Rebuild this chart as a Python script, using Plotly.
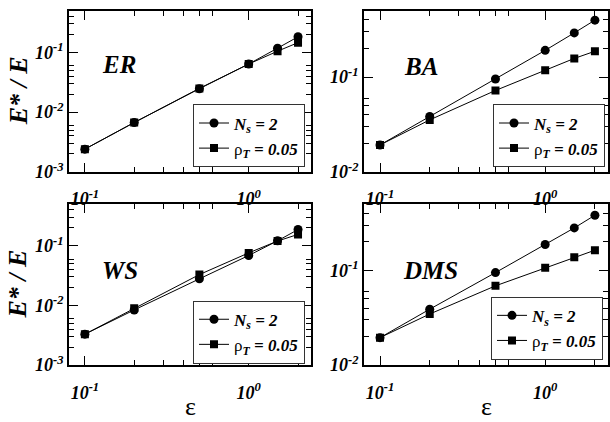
import numpy as np
import plotly.graph_objects as go

# ---------------- data ----------------
eps = [0.1, 0.2, 0.5, 1.0, 1.5, 2.0]

ER_Ns = [0.0024, 0.0067, 0.0247, 0.064, 0.118, 0.183]
ER_rho = [0.0024, 0.0067, 0.025, 0.064, 0.105, 0.146]
BA_Ns = [0.0192, 0.0383, 0.0953, 0.191, 0.292, 0.398]
BA_rho = [0.0192, 0.0353, 0.0721, 0.118, 0.157, 0.187]
WS_Ns = [0.0033, 0.0084, 0.0279, 0.0687, 0.121, 0.187]
WS_rho = [0.0033, 0.0090, 0.0329, 0.076, 0.120, 0.155]
DMS_Ns = [0.0195, 0.0389, 0.0946, 0.187, 0.280, 0.381]
DMS_rho = [0.0195, 0.0346, 0.0686, 0.1066, 0.137, 0.163]

panel_names = ["ER", "BA", "WS", "DMS"]
series_Ns = [ER_Ns, BA_Ns, WS_Ns, DMS_Ns]
series_rho = [ER_rho, BA_rho, WS_rho, DMS_rho]
y_low = [1e-3, 1e-2, 1e-3, 1e-2]
y_high = 0.5
x_range = [0.08, 2.4]

label_Ns = "<b><i>N<sub>s</sub> = 2</i></b>"
label_rho = "ρ<b><i><sub>T</sub> = 0.05</i></b>"

x_major = [0.1, 1.0]
x_major_text = ["<b><i>10<sup>-1</sup></i></b>", "<b><i>10<sup>0</sup></i></b>"]

# ---------------- layout geometry ----------------
W, H = 610, 422


def PX(x):
    return x / W


def PY(y):
    return 1 - y / H


xdom = [[PX(69), PX(311)], [PX(364), PX(608)]]
ydom = [[PY(176), PY(11)], [PY(374), PY(209)]]

FONT = "Liberation Serif"

fig = go.Figure()

for i in range(4):
    row, col = divmod(i, 2)
    ax = "" if i == 0 else str(i + 1)
    leg = "legend" if i == 0 else f"legend{i + 1}"
    # squares first so circles sit on top
    fig.add_trace(go.Scatter(
        x=eps, y=series_rho[i], mode="lines+markers",
        line=dict(color="black", width=1),
        marker=dict(symbol="square", size=8, color="black"),
        name=label_rho, xaxis="x" + ax, yaxis="y" + ax,
        legend=leg, legendrank=2))
    fig.add_trace(go.Scatter(
        x=eps, y=series_Ns[i], mode="lines+markers",
        line=dict(color="black", width=1),
        marker=dict(symbol="circle", size=9, color="black"),
        name=label_Ns, xaxis="x" + ax, yaxis="y" + ax,
        legend=leg, legendrank=1))

    lo = y_low[i]
    y_major = []
    d = lo
    while d < y_high * 1.0001:
        y_major.append(d)
        d *= 10
    y_major_text = ["<b><i>10<sup>%d</sup></i></b>" % int(round(np.log10(v))) for v in y_major]
    y_minor = [m * v for v in y_major for m in (2, 3, 4, 5, 6) if m * v < y_high * 0.999]
    x_minor = [m * v for v in x_major for m in (2, 3, 4, 5, 6) if m * v < x_range[1]]

    axis_common = dict(
        type="log", showgrid=False, zeroline=False,
        showline=True, linecolor="black", linewidth=1.8, mirror="ticks",
        ticks="inside", ticklen=9, tickwidth=1, tickcolor="black",
        tickfont=dict(family=FONT, size=18, color="black"),
    )
    fig.layout["xaxis" + ax] = dict(
        axis_common, domain=xdom[col], anchor="y" + ax,
        range=[np.log10(x_range[0]), np.log10(x_range[1])],
        tickvals=x_major, ticktext=x_major_text, ticklabelstandoff=10,
        minor=dict(tickvals=x_minor, ticks="inside", ticklen=5, tickwidth=1,
                   tickcolor="black", showgrid=False),
    )
    fig.layout["yaxis" + ax] = dict(
        axis_common, domain=ydom[row], anchor="x" + ax,
        range=[np.log10(lo), np.log10(y_high)],
        tickvals=y_major, ticktext=y_major_text,
        minor=dict(tickvals=y_minor, ticks="inside", ticklen=5, tickwidth=1,
                   tickcolor="black", showgrid=False),
    )

# legends (anchored at their right edges)
leg_pos = [(305, 107), (605, 107), (305, 308), (603, 304)]
for i, (lx, ly) in enumerate(leg_pos):
    key = "legend" if i == 0 else f"legend{i + 1}"
    fig.layout[key] = dict(
        x=PX(lx), y=PY(ly), xanchor="right", yanchor="top",
        bgcolor="white", bordercolor="#333333", borderwidth=1,
        font=dict(family=FONT, size=17, color="black"),
        itemwidth=30, tracegroupgap=0,
    )

# panel labels
lab_pos = [(100, 66), (402, 68), (100, 277), (401, 277)]
for name, (lx, ly) in zip(panel_names, lab_pos):
    fig.add_annotation(text="<b><i>%s</i></b>" % name, x=PX(lx), y=PY(ly),
                       xref="paper", yref="paper", xanchor="left", yanchor="middle",
                       showarrow=False, font=dict(family=FONT, size=25, color="black"))

# axis titles
for r in range(2):
    yc = (ydom[r][0] + ydom[r][1]) / 2
    fig.add_annotation(text="<b><i>E* / E</i></b>", x=PX(18), y=yc, xref="paper", yref="paper",
                       xanchor="center", yanchor="middle", textangle=-90, showarrow=False,
                       font=dict(family=FONT, size=26, color="black"))
for c in range(2):
    xc = (xdom[c][0] + xdom[c][1]) / 2
    fig.add_annotation(text="ε", x=xc, y=PY(416), xref="paper", yref="paper",
                       xanchor="center", yanchor="middle", showarrow=False,
                       font=dict(family=FONT, size=26, color="black"))

fig.update_layout(
    width=W, height=H, margin=dict(l=0, r=0, t=0, b=0),
    paper_bgcolor="white", plot_bgcolor="white",
)

fig.write_html("out.html", config={"displayModeBar": False},
               post_script="document.body.style.margin='0px';document.body.style.overflow='hidden';")
